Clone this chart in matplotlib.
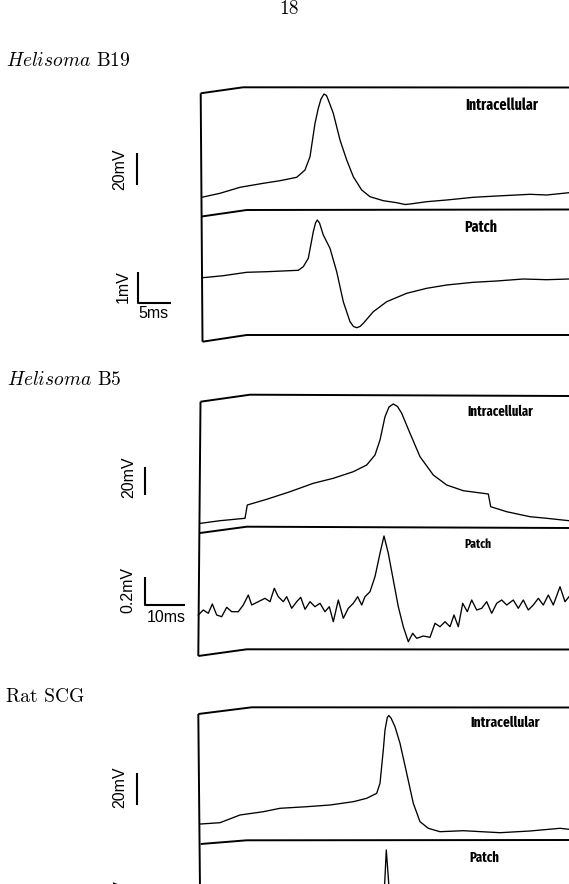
import matplotlib.pyplot as plt
import matplotlib.font_manager as fm

plt.rcParams['mathtext.fontset'] = 'cm'

# Helisoma B19, intracellular
b19_int_x = [201.7, 220, 240, 263.3, 280, 296.7, 305, 310, 315, 318.3, 321, 324, 326.5, 328.3, 333.3, 340,
             346.7, 353.3, 361.7, 370, 383.3, 396.7, 405, 410, 426.7, 446.7, 473.3, 496.7, 530, 546.7, 569]
b19_int_y = [197.3, 193.3, 187.3, 183.3, 180.7, 177.3, 170, 156.7, 123.3, 108.3, 99, 94, 95.5, 100, 113.3, 140,
             160, 176.7, 190, 196.7, 200.7, 202.7, 204.5, 204, 201.7, 200, 197.3, 196, 194.3, 195, 192.7]

# Helisoma B19, patch
b19_patch_x = [202.7, 223.3, 246.7, 266.7, 298.3, 303.3, 308.3, 313.3, 315.5, 317.3, 319.5, 323.3, 330, 336.7,
               343.3, 350, 353.5, 356.7, 360, 363.3, 373.3, 386.7, 406.7, 426.7, 446.7, 473.3, 496.7, 523.3,
               546.7, 569]
b19_patch_y = [277.7, 275.7, 272.3, 271.7, 270.3, 266.7, 258.3, 231.7, 223, 220, 223, 235, 248.3, 271.7,
               301.7, 321.7, 326.5, 327.7, 326.5, 323.3, 311.7, 301.7, 293.3, 288.3, 285, 282.3, 281, 279,
               279.7, 279]

# Helisoma B5, intracellular
b5_int_x = [200.7, 220, 245, 247.3, 266.7, 290, 313.3, 333.3, 353.3, 366.7, 375, 380, 385, 389, 393.3,
            397.5, 401.7, 410, 420, 433.3, 446.7, 463.3, 488.3, 490.7, 506.7, 530, 546.7, 569]
b5_int_y = [523.3, 520.7, 518.3, 505, 499.3, 491.7, 483.3, 478.3, 471.7, 465, 455, 440, 416.7, 407, 404,
            406.5, 413.3, 433.3, 456.7, 475, 485, 490.7, 494, 506.7, 511.7, 516.7, 518.3, 520.7]

# Helisoma B5, patch (noisy)
b5_patch_x = [198.3, 203.3, 208.3, 212.3, 216.7, 221.7, 226.7, 231.7, 238.3, 243.3, 248.3, 251.7,
              258.3, 265, 270, 274.3, 278.3, 283.3, 286.7, 291.7, 296.7, 300.7, 305, 310, 315, 320,
              325, 329.3, 333.3, 338.3, 343.3, 348.3, 353.3, 357.7, 361.7, 365, 370, 375, 380, 384,
              388.3, 393.3, 398.3, 403.3, 408.3, 412.7, 416.7, 423.3, 430, 435, 440, 445, 450, 454,
              458.3, 462.7, 467.3, 471.7, 476.7, 481.7, 486.7, 491.7, 496.7, 501.7, 506.7, 513.3,
              518.3, 523.3, 528.3, 533.3, 538.3, 543.3, 548.3, 553.3, 560, 565, 569]
b5_patch_y = [615, 610, 613.3, 604, 615, 616.7, 607.3, 611.7, 611.7, 605, 595, 605,
              601.7, 598.3, 601.7, 588.3, 596.7, 601.7, 596.7, 608.3, 601.7, 597.3, 609.3, 601.7, 606.7, 603.3,
              611.7, 606.7, 621.7, 600, 618.3, 608.3, 603.3, 596.7, 605, 596.7, 591.7, 576.7, 553.3, 536,
              553.3, 580, 606.7, 626.7, 641.7, 633.3, 638.3, 636, 637.3, 623.3, 626.7, 621.7, 626.7, 615,
              626.7, 603.3, 611.7, 600, 610, 608.3, 601.7, 613.3, 603.3, 600, 605, 600,
              608.3, 600, 610, 605, 598.3, 605, 595, 605, 586.7, 601.7, 596.7]

# Rat SCG, intracellular
rat_int_x = [200.7, 220, 240, 263.3, 280, 306.7, 330, 353.3, 366.7, 376.7, 380, 383.3, 385, 387.3, 388.8,
             391, 395, 400, 406.7, 413.3, 420, 428.3, 440, 463.3, 500, 530, 560, 569]
rat_int_y = [824, 822.7, 815, 811.7, 808.3, 806.7, 805, 801.7, 798.3, 793.3, 783.3, 750, 730, 717.5, 715.5,
             718, 726.7, 743.3, 773.3, 803.3, 821.7, 828.3, 831.7, 830.7, 832.7, 831, 828.3, 829.3]

# Rat SCG, patch (only the spike tip is on the page)
rat_patch_x = [382, 384.7, 386.3, 388.7, 391]
rat_patch_y = [900, 883, 850, 883, 900]

# recording frames: top edge, trace separator, bottom edge, left edge
b19_top = ([200.7, 243, 569], [93.3, 87.3, 87.5])
b19_sep = ([201.5, 246.7, 569], [216.5, 210, 209.5])
b19_bot = ([202.5, 246.7, 569], [341.7, 335, 335])
b19_left = ([200.7, 202.5], [93.3, 341.7])
b5_top = ([200.5, 250, 569], [401.7, 394.7, 396])
b5_sep = ([200, 246.7, 569], [533, 526.7, 528])
b5_bot = ([198.3, 246.7, 569], [656, 649.3, 649.5])
b5_left = ([200.5, 198.3], [401.7, 656])
rat_top = ([198.3, 251.7, 569], [714, 707.3, 707.5])
rat_sep = ([200.7, 246.7, 569], [844, 840.3, 840])
rat_left = ([198.3, 200], [714, 890])

# scale bars
b19_v20 = ([137, 137], [153, 185])
b19_v1 = ([138, 138, 171], [272, 303, 303])
b5_v20 = ([145, 145], [467, 495])
b5_v02 = ([145, 145, 185], [577, 605, 605])
rat_v20 = ([137, 137], [773, 805])

avail = {f.name for f in fm.fontManager.ttflist}
narrow = next((n for n in ['Fira Sans Extra Condensed', 'Barlow Condensed', 'PT Sans Narrow']
               if n in avail), 'DejaVu Sans')

fig = plt.figure(figsize=(5.69, 8.84), dpi=100)
ax = fig.add_axes([0, 0, 1, 1])
ax.set_xlim(0, 569)
ax.set_ylim(884, 0)
ax.axis('off')

for fx, fy in [b19_top, b19_sep, b19_bot, b19_left, b5_top, b5_sep, b5_bot, b5_left,
               rat_top, rat_sep, rat_left]:
    ax.plot(fx, fy, color='black', lw=1.4, solid_capstyle='butt')

traces = [(b19_int_x, b19_int_y), (b19_patch_x, b19_patch_y), (b5_int_x, b5_int_y),
          (b5_patch_x, b5_patch_y), (rat_int_x, rat_int_y), (rat_patch_x, rat_patch_y)]
for tx, ty in traces:
    ax.plot(tx, ty, color='black', lw=0.95)

for bx, by in [b19_v20, b19_v1, b5_v20, b5_v02, rat_v20]:
    ax.plot(bx, by, color='black', lw=1.5, solid_capstyle='butt')

serif = 'cmr10'
sans = 'Liberation Sans'

ax.text(289, 9, '18', fontfamily=serif, fontsize=14, ha='center', va='center')
ax.text(6, 61, r'$\mathit{Helisoma}$ B19', fontfamily=serif, fontsize=14, va='center')
ax.text(7, 380, r'$\mathit{Helisoma}$ B5', fontfamily=serif, fontsize=14, va='center')
ax.text(6, 697, 'Rat SCG', fontfamily=serif, fontsize=14, va='center')

ax.text(120, 169, '20mV', fontfamily=sans, fontsize=11.5, rotation=90, ha='center', va='center')
ax.text(123, 287, '1mV', fontfamily=sans, fontsize=11.5, rotation=90, ha='center', va='center')
ax.text(153, 314, '5ms', fontfamily=sans, fontsize=11.5, ha='center', va='center')
ax.text(129, 477, '20mV', fontfamily=sans, fontsize=11.5, rotation=90, ha='center', va='center')
ax.text(128, 590, '0.2mV', fontfamily=sans, fontsize=11.5, rotation=90, ha='center', va='center')
ax.text(166, 617, '10ms', fontfamily=sans, fontsize=11.5, ha='center', va='center')
ax.text(120, 787, '20mV', fontfamily=sans, fontsize=11.5, rotation=90, ha='center', va='center')
ax.text(120, 879, '1mV', fontfamily=sans, fontsize=11.5, rotation=90, ha='center', va='top')

ax.text(502, 105, 'Intracellular', fontfamily=narrow, fontweight='bold', fontsize=11, ha='center', va='center')
ax.text(481, 227, 'Patch', fontfamily=narrow, fontweight='bold', fontsize=11, ha='center', va='center')
ax.text(500, 412, 'Intracellular', fontfamily=narrow, fontweight='bold', fontsize=10, ha='center', va='center')
ax.text(478, 544, 'Patch', fontfamily=narrow, fontweight='bold', fontsize=9, ha='center', va='center')
ax.text(505, 723, 'Intracellular', fontfamily=narrow, fontweight='bold', fontsize=10.5, ha='center', va='center')
ax.text(484, 858, 'Patch', fontfamily=narrow, fontweight='bold', fontsize=10, ha='center', va='center')

fig.savefig('out.png', dpi=100)
plt.close(fig)
